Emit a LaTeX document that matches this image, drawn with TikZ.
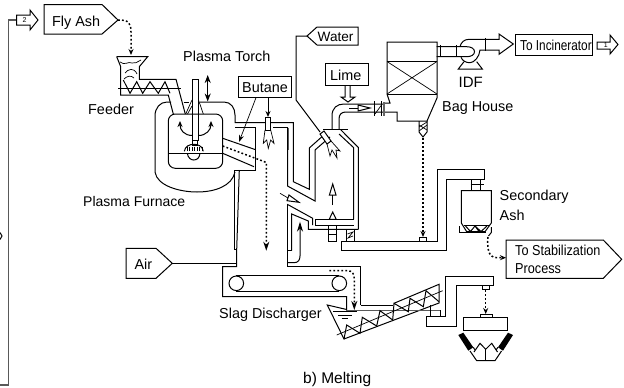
\documentclass[tikz,border=0pt]{standalone}
\usepackage{fontspec}
\setmainfont{Liberation Sans}
\newfontfamily\condfont[FakeStretch=0.88]{Liberation Sans}
\newfontfamily\narrfont[FakeStretch=0.82]{Liberation Sans}
\usetikzlibrary{arrows.meta}
\tikzset{
  ln/.style={line width=1pt,line join=miter},
  thn/.style={line width=0.7pt},
  gl/.style={line width=1.2pt,draw=black!65},
  dots/.style={line width=1.5pt,dash pattern=on 1.8pt off 2.2pt},
  dart/.style={-{Stealth[length=9pt,width=6pt]}},
  sart/.style={-{Stealth[length=6pt,width=5pt]}},
  lab/.style={anchor=base west,inner sep=0pt,font=\fontsize{14.4}{16}\selectfont},
  clab/.style={anchor=base west,inner sep=0pt,font=\condfont\fontsize{14.4}{16}\selectfont},
  nlab/.style={anchor=base west,inner sep=0pt,font=\narrfont\fontsize{14.4}{16}\selectfont},
  tiny/.style={inner sep=0pt,font=\fontsize{7}{8}\selectfont},
}
\begin{document}
\begin{tikzpicture}[x=1pt,y=-1pt]
\useasboundingbox (0,0) rectangle (624,388);
% --- recycle line
\coordinate (recA) at (16.5,20);
\coordinate (recB) at (0,385);
\draw[gl] (recA) -- (8.5,20) -- (8.5,385) -- (recB);
\draw[ln] (0,232.5) -- (2,236) -- (0,239.5);
\draw[ln] (16.5,15) -- (30,15) -- (30,10) -- (38,20) -- (30,30) -- (30,25) -- (16.5,25) -- cycle;
\node[tiny] (n2) at (24.5,20) {2};
% --- fly ash
\draw[ln] (44,4.5) -- (102,4.5) -- (118,20) -- (102,34) -- (44,34) -- cycle;
\coordinate (flytip) at (118,20);
\node[lab] (flyash) at (52,26) {Fly Ash};
\coordinate (hoptop) at (131,55);
\draw[dots,sart] (flytip) .. controls (128,20) and (131,22) .. (131,32) -- (hoptop);
% --- feeder
\draw[ln] (116.7,56.7) -- (147.7,56.7) -- (139.3,66.7) -- (139.3,79.3) -- (176,79.3) -- (185.3,114);
\draw[ln] (116.7,56.7) -- (120.7,66.7) -- (120.7,95) -- (168.3,95) -- (173.3,114);
\draw[thn] (118.3,88.3) -- (180.7,88.3);
\draw[ln] (123.3,80) -- (130,93.3) -- (136.7,81.7) -- (142.7,93.3) -- (150,81.7) -- (158.3,93.3) -- (165,81.7) -- (170,93.3);
\draw[thn] (120,62) .. controls (125,66) and (128,61) .. (132,63) .. controls (135,64) and (137,62) .. (141,60);
\draw[thn] (125,73) .. controls (128,69) and (134,67) .. (137,74);
\draw[thn] (124,79) .. controls (127,76) and (131,75) .. (134,78);
\node[lab] (feeder) at (88,114) {Feeder};
% --- furnace
\draw[ln] (171,102) -- (167,102) .. controls (160,102) and (155,108) .. (155,116) -- (155,172)
  .. controls (157,186) and (180,192) .. (197,192) .. controls (215,192) and (232,186) .. (235,172);
\draw[ln] (183.5,102) -- (189,102);
\draw[ln] (200,102) -- (224,102) .. controls (231,102) and (235,108) .. (235,115) -- (235,122.7) -- (293.3,122.7) -- (293.3,181.7) -- (309.3,189.3) -- (309.3,148);
\draw[ln] (235,127.7) -- (255,127.7) -- (255,170) -- (234,170) -- (234,249.5) -- (236.7,249.5);
\draw[ln] (239.3,170) -- (236.7,249.5) -- (236.7,266.7) -- (222.7,266.7) -- (222.7,296.7) -- (346.7,296.7) -- (346.7,310.7);
\draw[ln,rounded corners=7pt] (168.3,114) rectangle (222.7,168.3);
\draw[ln] (168.3,153.3) -- (222.7,153.3);
% torch
\draw[ln] (192,79.3) rectangle (198.5,140);
\draw[ln,fill=white] (192.5,140) rectangle (197.5,145);
\draw[thn] (192,100) -- (185.7,114) (198.5,100) -- (203.3,114) (192,106) -- (187.5,114);
\draw[ln] (184.3,151.3) .. controls (185,146) and (190,144.3) .. (193.8,144.3) .. controls (198,144.3) and (202.5,146) .. (203.3,151.3);
\foreach \xx in {187,189.5,192,194.5,197,199.5,202} \draw[thn] (\xx,146.5) -- (\xx,151.3);
\draw[ln] (187.3,153.3) .. controls (188,158) and (191,160) .. (193.7,160) .. controls (197,160) and (199.5,158) .. (200,153.3);
\draw[ln,sart] (192.5,135.5) .. controls (184,135.5) and (180,130) .. (180,121);
\draw[ln,sart] (198.5,135.5) .. controls (206,135.5) and (211,130) .. (211,121);
\draw[ln,{Stealth[length=8pt,width=6pt]}-{Stealth[length=8pt,width=6pt]}] (207.7,75) -- (207.7,101.5);
\node[lab] (torch) at (183,61) {Plasma Torch};
\node[lab,font=\fontsize{14}{16}\selectfont] (furn) at (83,206) {Plasma Furnace};
% inclined tube
\draw[ln] (222.7,138.3) -- (255,149.5);
\draw[ln] (222.7,153.3) -- (254,166.7);
\coordinate (dropA) at (266.3,250.7);
\draw[dots,dart] (222.7,146) -- (256,158.5) -- (266.3,162.5) -- (dropA);
% butane
\draw[ln] (238,76.7) rectangle (291.7,97.7);
\node[lab] (butane) at (242,92.7) {Butane};
\draw[ln,sart] (268,97.7) -- (268,117);
\draw[thn,-{Stealth[length=7pt,width=5pt]}] (256,97.7) -- (239,142);
\draw[ln,fill=white] (265,117.3) rectangle (270.7,130);
\draw[thn] (265,130) -- (263.3,143.3) -- (266.7,140) -- (268.3,148.3) -- (270.7,140) -- (274,143.3) -- (270.7,130);
% pipe to chamber
\draw[ln] (287.5,127.7) -- (273,127.7);
\draw[ln] (287.5,127.7) -- (287.5,186) -- (315,201) -- (315,150) -- (330,137);
\draw[gl] (288.5,128) -- (288.5,150);
% chamber walls
\draw[ln] (309.3,148) -- (325,134);
\draw[ln] (353.5,219.3) -- (353.5,147.5) -- (339,134);
\draw[ln] (358.3,229.3) -- (358.3,147.5) -- (340.5,129.5);
\draw[ln] (315,219.3) -- (353.5,219.3) (315,219.3) -- (315,225) -- (353.5,225);
\draw[ln] (287.3,204.3) -- (312.7,218.3) -- (312.7,225);
\draw[ln] (291.7,250.7) -- (291.7,214) -- (308.3,221) -- (308.3,229.3) -- (358.3,229.3);
\draw[ln] (287.3,250.7) -- (291.7,250.7);
\draw[ln] (287.3,204.3) -- (287.3,266.7) -- (360.7,266.7) -- (360.7,305);
\draw[ln,-{Stealth[length=10pt,width=6pt]}] (287.3,262.7) -- (294,262.7) .. controls (298,262.7) and (300,260) .. (300,256) -- (300,221.7);
\draw[ln] (328.3,225) -- (328.3,241) -- (336.7,241) -- (336.7,225) (328.3,234) -- (336.7,234);
\draw[ln] (346.7,229.3) -- (346.7,241) (354,229.3) -- (354,241);
\draw[thn] (347.5,234) -- (353,232) -- (348,238) -- (353,236);
% small inner arrows
\draw[thn] (332.7,205) -- (332.7,195);
\draw[ln] (332.7,184) -- (336,195) -- (329.4,195) -- cycle;
\draw[ln] (332.7,212) -- (336.2,219.3) -- (329.2,219.3) -- cycle;
\draw[thn] (280,193.3) -- (288,198);
\draw[ln] (289,195) -- (299,202.3) -- (287,200.7) -- cycle;
% elbow and flange
\draw[ln] (323,129) -- (348,129);
\draw[ln] (332,129) -- (332,116) .. controls (332,108) and (337,104) .. (344,104) -- (384,104);
\draw[ln] (339,129) -- (339,119) .. controls (339,114) and (342,112) .. (346,112) -- (397,112) -- (397,121) -- (427,121) -- (437,98) -- (437,42) -- (387,42) -- (387,94) -- (390,103) -- (384,103);
\draw[line width=2.2pt,draw=black!60] (384.2,102) -- (384.2,116);
\draw[ln] (374.3,101) -- (374.3,116) (381.5,101) -- (381.5,116);
\draw[thn] (375,114) -- (381.5,105);
\draw[thn] (349,108) -- (358,108);
\draw[ln] (358,105) -- (370,108) -- (358,111) -- cycle;
% lime
\draw[ln] (325,63) rectangle (368,85);
\node[lab] (lime) at (330,80) {Lime};
\draw[ln] (345,85) -- (345,97) -- (341,97) -- (348,102) -- (355,97) -- (350,97) -- (350,85);
% water
\draw[ln] (358,27) -- (317,27) -- (307,36) -- (317,45) -- (358,45) -- cycle;
\coordinate (wattip) at (307,36);
\node[lab,font=\fontsize{13.6}{16}\selectfont] (water) at (317.5,41.7) {Water};
\draw[ln] (wattip) -- (296,36) -- (296,100) -- (320,132);
\draw[ln,fill=white] (320,134) -- (324,131) -- (331,141) -- (327,144) -- cycle;
\draw[thn] (327,144) -- (330,156) -- (332,150) -- (337,158) -- (336,150) -- (340,151) -- (331,141);
% bag house
\draw[ln] (387,61.5) -- (437,61.5) (387,94) -- (437,94);
\draw[thn] (387,61.5) -- (437,94) (387,94) -- (437,61.5);
\draw[ln] (419,121) -- (419,132) -- (423,137) -- (427,132) -- (427,121);
\draw[thn] (419,125) -- (427,130) (419,131) -- (427,125) (419,127) -- (427,122);
\node[lab] (bag) at (442,111.7) {Bag House};
% IDF
\draw[ln] (436.7,46.7) -- (466.7,46.7) .. controls (471,46.7) and (474.5,48.5) .. (474.5,51.7) .. controls (474.5,55) and (471,56.7) .. (466.7,56.7) -- (436.7,56.7);
\draw[ln] (440.7,45) -- (440.7,57.3) (456.7,45) -- (456.7,57.3);
\draw[ln] (460,46.7) .. controls (461,42.5) and (464,39.3) .. (469,39.3) -- (499,39.3) -- (499,34) -- (513.3,44) -- (499,54.3) -- (499,50) -- (480,50)
  .. controls (479.5,57) and (474,62.7) .. (470,62.7) .. controls (466,62.7) and (462.5,61) .. (461,57.3);
\draw[ln] (485.7,38) -- (485.7,51);
\draw[ln] (464,61.7) -- (458.3,69) -- (482.3,69) -- (476.7,61.7);
\node[lab,font=\fontsize{15}{16}\selectfont] (idf) at (458.5,87.7) {IDF};
% to incinerator
\draw[ln] (515,34) rectangle (592.7,55);
\node[nlab] (incin) at (520,50.7) {To Incinerator};
\draw[ln] (597,42) -- (610,42) -- (610,35) -- (618,44.5) -- (610,54) -- (610,49) -- (597,49) -- cycle;
\node[tiny] (n1) at (605.7,45) {1};
% dust to duct
\coordinate (ductport) at (423,237);
\draw[dots,sart] (423,138) -- (ductport);
\draw[ln] (341.3,241) -- (437.3,241) -- (437.3,169.3) -- (484.3,169.3) -- (484.3,179) -- (446.7,179) -- (446.7,250.7) -- (341.3,250.7) -- cycle;
\draw[ln] (419.3,237.3) rectangle (426,241);
% secondary ash
\draw[ln] (471.7,179) -- (471.7,190.7) (480.7,179) -- (480.7,190.7) (470.5,184) -- (484,184);
\draw[ln] (461.3,190.7) -- (491.3,190.7) -- (491.3,223) -- (485,231.7) -- (466.7,231.7) -- (461.3,223) -- cycle;
\draw[thn] (463.5,225.5) -- (489,225.5);
\draw[ln] (465.5,226) -- (470.5,231.5) -- (475,226) -- (479,231.5) (475,226) -- (481,231.5) -- (487,226);
\draw[ln] (459.7,226) -- (459.7,232.5) -- (486,232.5);
\draw[ln] (491.3,227) -- (491.3,232.5) -- (488.5,236);
\node[lab] (sec) at (499.5,200.7) {Secondary};
\node[lab] (ash) at (499.5,220) {Ash};
\coordinate (stabin) at (506,257.7);
\draw[dots,sart] (488,237) .. controls (487,248) and (488,257.7) .. (497,257.7) -- (stabin);
\draw[ln] (506,240) -- (603.3,240) -- (621.7,259.3) -- (603.3,278.3) -- (506,278.3) -- cycle;
\node[clab] (st1) at (515,255) {To Stabilization};
\node[clab] (st2) at (515,273.3) {Process};
% air
\draw[ln] (126,248.3) -- (156,248.3) -- (172.3,263.3) -- (156,278.3) -- (126,278.3) -- cycle;
\node[lab] (air) at (134.3,269) {Air};
\coordinate (airtip) at (172.3,263.3);
\coordinate (airend) at (236.7,263.3);
\draw[ln] (airtip) -- (airend);
% conveyor
\node[circle,draw,line width=1pt,minimum size=14.6pt,inner sep=0pt] (c1) at (236.3,283.3) {};
\node[circle,draw,line width=1pt,minimum size=14.6pt,inner sep=0pt] (c2) at (339.3,283.3) {};
\draw[ln] (c1.north) -- (c2.north) (c1.south) -- (c2.south);
\node[lab] (slag) at (219,318) {Slag Discharger};
\coordinate (pool) at (354.3,310);
\draw[dots,dart] (329.3,270.7) -- (347,270.7) .. controls (352,270.7) and (354.3,273) .. (354.3,279) -- (pool);
% pool and trough
\draw[ln] (346.7,309.5) -- (327.3,305) -- (344,339) -- (439,303) -- (439,284.3) -- (394,303.3);
\draw[gl] (346.7,310.7) -- (440,310.7);
\draw[ln] (360.7,305) -- (393,305);
\draw[ln] (333.3,311.2) -- (356.7,311.2) (338.3,315) -- (351.7,315) (341.7,318.3) -- (348.3,318.3);
\draw[thn] (336.7,335) -- (442.7,290.7);
\draw[ln] (344,339) -- (346.7,325) -- (360,333.3) -- (362.3,317.3) -- (376.7,326) -- (380,310.7) -- (392.7,320) -- (394,303.3) -- (408.3,311.7) -- (410,298.3) -- (423.3,306.7) -- (426,290.7) -- (439,301.7);
\draw[ln] (430,305) -- (430,316) (440,310) -- (440,316);
\draw[ln] (426.7,316) -- (426.7,326) -- (456,326) -- (456,285.7) -- (493.3,285.7) -- (493.3,276.7) -- (445.7,276.7) -- (445.7,316) -- cycle;
\draw[ln] (482.7,285.7) rectangle (489.3,289);
\coordinate (recv) at (485.7,314);
\draw[dots,sart] (485.7,290) -- (recv);
\draw[ln] (480,314) rectangle (492.7,317.3);
\draw[ln] (463.3,317.3) rectangle (507.7,330.7);
\fill (458.3,335) -- (463.3,332.7) -- (473.3,347.3) -- (468.3,350.7) -- cycle;
\fill (513,335) -- (508,332.7) -- (498,347.3) -- (503,350.7) -- cycle;
\draw[ln] (470,351) -- (476.7,360.7) -- (495,360.7) -- (501.5,351);
\draw[ln] (473.3,347.3) -- (475,350) (498,347.3) -- (496,350);
\draw[ln] (474,352) -- (480,343.3) -- (485.7,349.3) -- (491.7,343.3) -- (497.5,352);
\draw[ln] (485.7,349.3) -- (485.7,360.7);
% caption
\node[lab,font=\fontsize{15.5}{18}\selectfont] (cap) at (303,383) {b) Melting};
\end{tikzpicture}
\end{document}
